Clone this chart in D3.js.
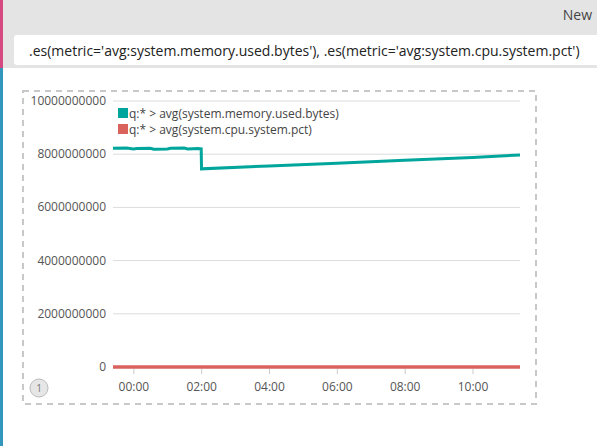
<!DOCTYPE html>
<html><head><meta charset="utf-8">
<script src="https://cdn.jsdelivr.net/npm/d3@7"></script>
<style>
body{margin:0;width:597px;height:446px;overflow:hidden;background:#fff;font-family:"Open Sans",sans-serif;}
</style></head><body>
<svg id="chart" width="597" height="446"></svg>
<script>
// hours relative to 00:00
const memHours = [-0.6, -0.2, 0.0, 0.1, 0.5, 0.6, 1.0, 1.1, 1.5, 1.6, 1.9, 2.0, 2.01, 4.0, 6.0, 8.0, 10.0, 11.4];
const memValues = [8.22e9, 8.23e9, 8.2e9, 8.21e9, 8.22e9, 8.19e9, 8.2e9, 8.22e9, 8.23e9, 8.2e9, 8.21e9, 8.2e9, 7.45e9, 7.56e9, 7.66e9, 7.77e9, 7.88e9, 7.97e9];
const cpuHours = [-0.6, 11.4];
const cpuValues = [0.12, 0.12];
const yTicks = [0, 2000000000, 4000000000, 6000000000, 8000000000, 10000000000];
const xTicks = [0, 2, 4, 6, 8, 10];
const legendLabels = ['q:* > avg(system.memory.used.bytes)', 'q:* > avg(system.cpu.system.pct)'];
const colors = ['#00a69b', '#d9625c'];

const svg = d3.select('#chart');

// page chrome
svg.append('rect').attr('width', 597).attr('height', 68).attr('fill', '#e4e4e4');
svg.append('rect').attr('width', 3).attr('height', 68).attr('fill', '#d64980');
svg.append('rect').attr('y', 68).attr('width', 3).attr('height', 378).attr('fill', '#3296bd');
svg.append('text').attr('x', 592).attr('y', 20).attr('text-anchor', 'end')
    .attr('font-size', 14).attr('fill', '#444').text('New');
svg.append('rect').attr('x', 14).attr('y', 35).attr('width', 590).attr('height', 30)
    .attr('rx', 3).attr('fill', '#fff');
svg.append('text').attr('x', 29).attr('y', 56).attr('font-size', 14).attr('fill', '#222')
    .text(".es(metric='avg:system.memory.used.bytes'), .es(metric='avg:system.cpu.system.pct')");

// dashed panel
svg.append('rect').attr('x', 23).attr('y', 91).attr('width', 513).attr('height', 313)
    .attr('fill', 'none').attr('stroke', '#c8c8c8').attr('stroke-width', 2).attr('stroke-dasharray', '6,5');

const x = d3.scaleLinear().domain([-0.6, 11.4]).range([113, 520]);
const y = d3.scaleLinear().domain([0, 10000000000]).range([367, 101]);

// grid + y labels
const gy = svg.append('g');
gy.selectAll('line').data(yTicks).enter().append('line')
    .attr('x1', 113).attr('x2', 520)
    .attr('y1', d => y(d)).attr('y2', d => y(d))
    .attr('stroke', '#dcdcdc');
gy.selectAll('text').data(yTicks).enter().append('text')
    .attr('x', 106).attr('y', d => y(d) + 4).attr('text-anchor', 'end')
    .attr('font-size', 12).attr('fill', '#555').text(d => d);

// x axis
const xAxis = svg.append('g').attr('transform', 'translate(0,369)')
    .call(d3.axisBottom(x).tickValues(xTicks).tickSize(5).tickPadding(8)
        .tickFormat(d => d3.format('02d')(d) + ':00'));
xAxis.select('.domain').remove();
xAxis.selectAll('line').attr('stroke', '#ccc');
xAxis.selectAll('text').attr('font-size', 12).attr('fill', '#555').attr('font-family', '"Open Sans",sans-serif');

// lines
const line = d3.line().x(d => x(d[0])).y(d => y(d[1]));
svg.append('path').datum(cpuHours.map((h, i) => [h, cpuValues[i]]))
    .attr('d', line).attr('fill', 'none').attr('stroke', colors[1]).attr('stroke-width', 3.5);
svg.append('path').datum(memHours.map((h, i) => [h, memValues[i]]))
    .attr('d', line).attr('fill', 'none').attr('stroke', colors[0]).attr('stroke-width', 3);

// legend
const lg = svg.append('g').selectAll('g').data(legendLabels).enter().append('g')
    .attr('transform', (d, i) => `translate(118,${108 + i * 16})`);
lg.append('rect').attr('width', 10).attr('height', 10).attr('fill', (d, i) => colors[i]);
lg.append('text').attr('x', 11).attr('y', 10).attr('font-size', 12).attr('fill', '#444').text(d => d);

// series badge
svg.append('circle').attr('cx', 39).attr('cy', 388).attr('r', 9)
    .attr('fill', '#e6e6e6').attr('stroke', '#bbb');
svg.append('text').attr('x', 39).attr('y', 392).attr('text-anchor', 'middle')
    .attr('font-size', 10).attr('fill', '#777').text('1');
</script>
</body></html>
